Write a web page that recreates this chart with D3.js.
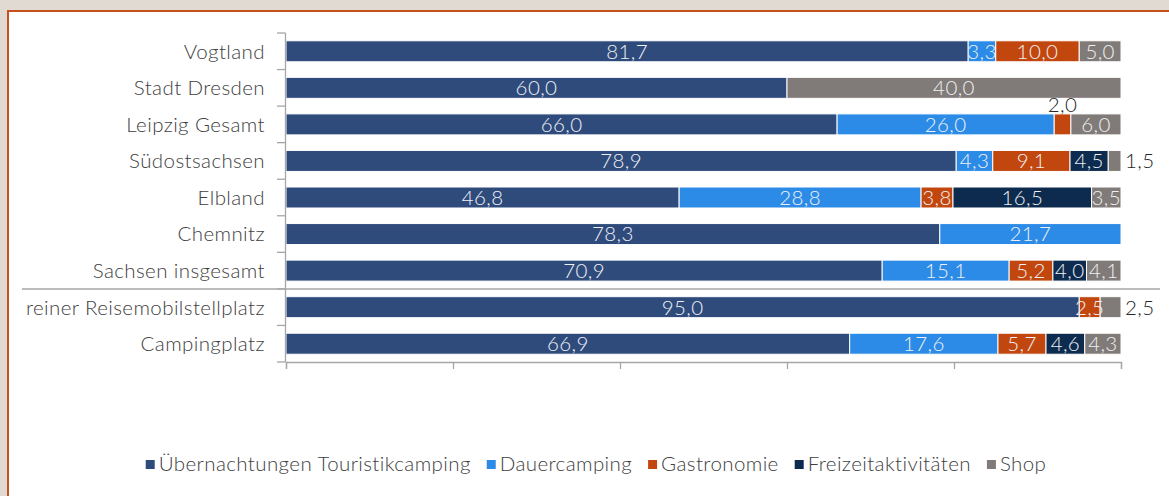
<!DOCTYPE html>
<html>
<head>
<meta charset="utf-8">
<script src="https://cdn.jsdelivr.net/npm/d3@7"></script>
<style>
  body { margin: 0; background: #e0dad2; }
  svg { display: block; font-family: Lato, 'Open Sans', sans-serif; font-weight: 300; letter-spacing: 0.4px; }
</style>
</head>
<body>
<svg id="chart" width="1169" height="496"></svg>
<script>
// rows top to bottom
const regions = ['Vogtland', 'Stadt Dresden', 'Leipzig Gesamt', 'Südostsachsen', 'Elbland',
  'Chemnitz', 'Sachsen insgesamt', 'reiner Reisemobilstellplatz', 'Campingplatz']

const seriesNames = ['Übernachtungen Touristikcamping', 'Dauercamping', 'Gastronomie', 'Freizeitaktivitäten', 'Shop']
const seriesKeys = ['touri', 'dauer', 'gastro', 'freizeit', 'shop']
const seriesColors = ['#2f4b7c', '#2b8be6', '#c2470e', '#0c2b4f', '#807b78']

// values per series, one per region
const touri    = [81.7, 60.0, 66.0, 78.9, 46.8, 78.3, 70.9, 95.0, 66.9]
const dauer    = [ 3.3,  0,   26.0,  4.3, 28.8, 21.7, 15.1,  0,   17.6]
const gastro   = [10.0,  0,    2.0,  9.1,  3.8,  0,    5.2,  2.5,  5.7]
const freizeit = [ 0,    0,    0,    4.5, 16.5,  0,    4.0,  0,    4.6]
const shop     = [ 5.0, 40.0,  6.0,  1.5,  3.5,  0,    4.1,  2.5,  4.3]

// labels that excel pushed out of the bar
const outsideLabels = [
  {region: 'Leipzig Gesamt', key: 'gastro', place: 'above'},
  {region: 'Südostsachsen', key: 'shop', place: 'right'},
  {region: 'reiner Reisemobilstellplatz', key: 'shop', place: 'right'}
]

const table = regions.map((r, i) => ({
  region: r, touri: touri[i], dauer: dauer[i], gastro: gastro[i], freizeit: freizeit[i], shop: shop[i]
}))

const fs = '20.5px'
const svg = d3.select('#chart')

// white panel with orange frame
svg.append('rect')
  .attr('x', 8).attr('y', 11)
  .attr('width', 1300).attr('height', 600)
  .attr('fill', '#fff')
  .attr('stroke', '#c8501c')
  .attr('stroke-width', 2)

const x = d3.scaleLinear().domain([0, 1]).range([286, 1121])
const y = d3.scaleBand().domain(regions).range([33, 362])
  .paddingInner(0.426).paddingOuter(0.213)

const stack = d3.stack().keys(seriesKeys).offset(d3.stackOffsetExpand)
const layers = stack(table)

const fmt = v => d3.format('.1f')(v).replace('.', ',')

const g = svg.append('g')
layers.forEach((layer, i) => {
  g.selectAll(null)
    .data(layer.filter(s => s.data[layer.key] > 0))
    .enter().append('rect')
    .attr('x', d => x(d[0]))
    .attr('y', d => y(d.data.region))
    .attr('width', d => x(d[1]) - x(d[0]))
    .attr('height', y.bandwidth())
    .attr('fill', seriesColors[i])
    .attr('stroke', '#fff')
    .attr('stroke-width', 1)
})

// value labels
const labels = svg.append('g').style('font-size', fs)
layers.forEach(layer => {
  layer.filter(s => s.data[layer.key] > 0).forEach(s => {
    const v = s.data[layer.key]
    const out = outsideLabels.find(o => o.region === s.data.region && o.key === layer.key)
    const cy = y(s.data.region) + y.bandwidth() / 2
    const t = labels.append('text').text(fmt(v))
    if (!out) {
      t.attr('x', (x(s[0]) + x(s[1])) / 2).attr('y', cy)
        .attr('text-anchor', 'middle').attr('dy', '0.36em')
        .attr('fill', '#eef0f4')
    } else if (out.place === 'above') {
      t.attr('x', (x(s[0]) + x(s[1])) / 2).attr('y', y(s.data.region) - 2)
        .attr('text-anchor', 'middle')
        .attr('fill', '#262626')
    } else {
      t.attr('x', x(s[1]) + 4).attr('y', cy)
        .attr('dy', '0.36em')
        .attr('fill', '#262626')
    }
  })
})

// left axis with ticks on the band boundaries
const axisCol = '#a6a6a6'
const gap = (y.step() - y.bandwidth()) / 2
const bounds = regions.map(r => y(r) - gap).concat([y(regions[regions.length - 1]) + y.bandwidth() + gap])
const ax = svg.append('g').attr('stroke', axisCol).attr('stroke-width', 1.3)
ax.append('line').attr('x1', 285.5).attr('x2', 285.5).attr('y1', bounds[0]).attr('y2', bounds[bounds.length - 1])
ax.selectAll(null).data(bounds).enter().append('line')
  .attr('x1', 277).attr('x2', 285.5).attr('y1', d => d).attr('y2', d => d)

svg.append('g')
  .attr('transform', 'translate(0,' + bounds[bounds.length - 1] + ')')
  .call(d3.axisBottom(x).tickValues([0, 0.2, 0.4, 0.6, 0.8, 1]).tickFormat('').tickSizeOuter(0).tickSize(7))
  .call(a => a.selectAll('path,line').attr('stroke', axisCol).attr('stroke-width', 1.3))

// separator between regions and site types
const sepY = y('reiner Reisemobilstellplatz') - gap
svg.append('line')
  .attr('x1', 22).attr('x2', 1160).attr('y1', sepY).attr('y2', sepY)
  .attr('stroke', axisCol).attr('stroke-width', 1.5)

// category labels
svg.append('g').selectAll('text')
  .data(regions).enter().append('text')
  .attr('x', 265)
  .attr('y', d => y(d) + y.bandwidth() / 2)
  .attr('dy', '0.36em')
  .attr('text-anchor', 'end')
  .attr('fill', '#404040')
  .style('font-size', fs)
  .text(d => d)

// legend
const legend = svg.append('g').style('font-size', fs)
let lx = 0
seriesNames.forEach((n, i) => {
  const it = legend.append('g').attr('transform', 'translate(' + lx + ',0)')
  it.append('rect').attr('x', 0).attr('y', -11).attr('width', 9).attr('height', 9).attr('fill', seriesColors[i])
  const t = it.append('text').attr('x', 13).attr('y', 0).attr('fill', '#404040').text(n)
  lx += 13 + t.node().getComputedTextLength() + 16
})
const lw = lx - 16
legend.attr('transform', 'translate(' + (596 - lw / 2) + ',471)')
</script>
</body>
</html>
